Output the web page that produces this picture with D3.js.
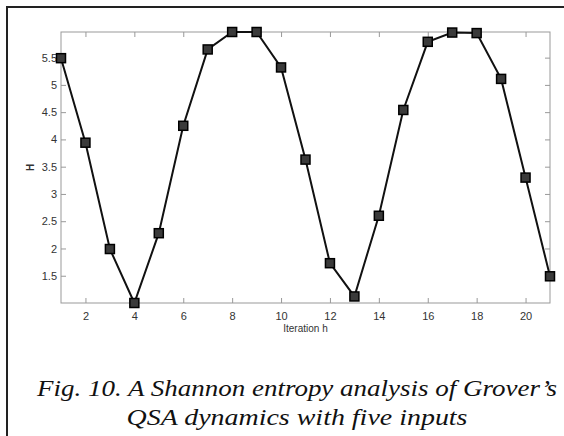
<!DOCTYPE html>
<html>
<head>
<meta charset="utf-8">
<script src="https://cdn.jsdelivr.net/npm/d3@7"></script>
<style>
  body { margin: 0; background: #fff; }
  .axis text { font-family: "Liberation Sans", Arial, sans-serif; font-size: 11px; fill: #333; }
  .caption { font-family: "Liberation Serif", "Times New Roman", serif; font-style: italic; font-size: 24px; fill: #111; }
</style>
</head>
<body>
<script>
// iteration numbers and entropy values
var iterations = [1, 2, 3, 4, 5, 6, 7, 8, 9, 10, 11, 12, 13, 14, 15, 16, 17, 18, 19, 20, 21];
var entropy = [5.49, 3.94, 1.99, 1.0, 2.28, 4.25, 5.65, 5.97, 5.97, 5.32, 3.63, 1.73, 1.12, 2.6, 4.54, 5.79, 5.96, 5.95, 5.11, 3.3, 1.49];
var xTicks = [2, 4, 6, 8, 10, 12, 14, 16, 18, 20];
var yTicks = [1.5, 2, 2.5, 3, 3.5, 4, 4.5, 5, 5.5];
var captionLines = ['Fig. 10. A Shannon entropy analysis of Grover\u2019s', 'QSA dynamics with five inputs'];
var captionWidths = [520, 341];

var W = 564, H = 436;
var margin = { top: 32, right: 14, bottom: 133, left: 61 };
var width = W - margin.left - margin.right;
var height = H - margin.top - margin.bottom;

var svg = d3.select('body').append('svg')
    .attr('width', W)
    .attr('height', H);

// frame around the figure (only top and left edges are visible in the scan)
svg.append('path')
    .attr('d', 'M7,436V7H564')
    .attr('fill', 'none')
    .attr('stroke', '#222')
    .attr('stroke-width', 2);

var x = d3.scaleLinear().domain([1, 21]).range([0, width]);
var y = d3.scaleLinear().domain([d3.min(entropy), d3.max(entropy)]).range([height, 0]);

var g = svg.append('g')
    .attr('transform', 'translate(' + margin.left + ',' + margin.top + ')');

// matlab style box with inward ticks on all four sides
g.append('rect')
    .attr('width', width)
    .attr('height', height)
    .attr('fill', 'none')
    .attr('stroke', '#999')
    .attr('stroke-width', 1);

var axisColor = function(sel) {
    sel.select('.domain').remove();
    sel.selectAll('.tick line').attr('stroke', '#999');
};

g.append('g')
    .attr('class', 'axis')
    .attr('transform', 'translate(0,' + height + ')')
    .call(d3.axisBottom(x).tickValues(xTicks).tickSizeInner(-5).tickPadding(9))
    .call(axisColor);

g.append('g')
    .attr('class', 'axis')
    .call(d3.axisTop(x).tickValues(xTicks).tickSizeInner(-5).tickFormat(''))
    .call(axisColor);

g.append('g')
    .attr('class', 'axis')
    .call(d3.axisLeft(y).tickValues(yTicks).tickSizeInner(-5).tickPadding(4).tickFormat(d3.format('')))
    .call(axisColor);

g.append('g')
    .attr('class', 'axis')
    .attr('transform', 'translate(' + width + ',0)')
    .call(d3.axisRight(y).tickValues(yTicks).tickSizeInner(-5).tickFormat(''))
    .call(axisColor);

// axis labels
g.append('text')
    .attr('x', width / 2)
    .attr('y', height + 29)
    .attr('text-anchor', 'middle')
    .style('font-family', '"Liberation Sans", Arial, sans-serif')
    .style('font-size', '10px')
    .style('fill', '#333')
    .text('Iteration h');

g.append('text')
    .attr('transform', 'translate(-31,' + (height / 2) + ') rotate(-90)')
    .attr('text-anchor', 'middle')
    .attr('dy', '0.35em')
    .style('font-family', '"Liberation Sans", Arial, sans-serif')
    .style('font-size', '10px')
    .style('font-weight', 'bold')
    .style('fill', '#333')
    .text('H');

var points = iterations.map(function(h, i) {
    return { h: h, v: entropy[i] };
});

var line = d3.line()
    .x(function(d) { return x(d.h); })
    .y(function(d) { return y(d.v); });

g.append('path')
    .datum(points)
    .attr('fill', 'none')
    .attr('stroke', '#111')
    .attr('stroke-width', 2)
    .attr('d', line);

g.selectAll('.marker')
    .data(points)
    .enter().append('rect')
    .attr('class', 'marker')
    .attr('x', function(d) { return x(d.h) - 4.5; })
    .attr('y', function(d) { return y(d.v) - 4.5; })
    .attr('width', 9)
    .attr('height', 9)
    .attr('fill', '#3a3a3a')
    .attr('stroke', '#000')
    .attr('stroke-width', 1.5);

// figure caption
svg.selectAll('.caption')
    .data(captionLines)
    .enter().append('text')
    .attr('class', 'caption')
    .attr('x', 297)
    .attr('y', function(d, i) { return 396 + i * 29; })
    .attr('text-anchor', 'middle')
    .attr('textLength', function(d, i) { return captionWidths[i]; })
    .attr('lengthAdjust', 'spacingAndGlyphs')
    .text(function(d) { return d; });
</script>
</body>
</html>
